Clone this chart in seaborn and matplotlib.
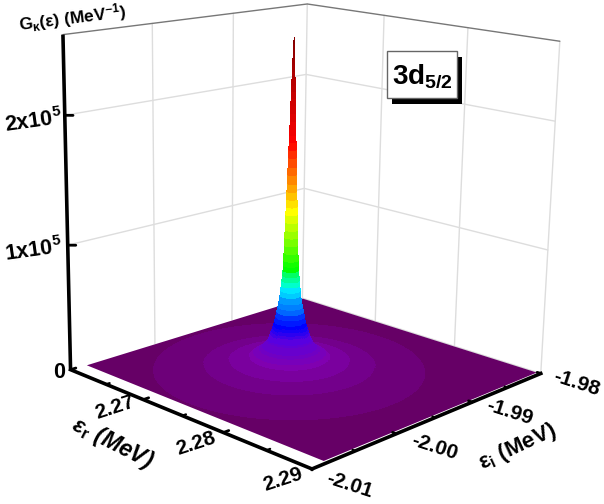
import numpy as np
import matplotlib
matplotlib.use("Agg")
import matplotlib.pyplot as plt
from matplotlib.colors import BoundaryNorm, ListedColormap
from matplotlib.patches import Rectangle
import seaborn as sns

# axis ranges and ticks
e_r_range = [2.26, 2.29]
e_i_range = [-2.01, -1.98]
g_range = [0, 2.6e5]
e_r_major = [2.26, 2.27, 2.28, 2.29]
e_r_minor = [2.265, 2.275, 2.285]
e_i_major = [-2.01, -2.00, -1.99, -1.98]
e_i_minor = [-2.005, -1.995, -1.985]
g_major = [0, 1e5, 2e5]

# flat purple floor, slightly inset from the axes
floor_r = [2.26, 2.2895]
floor_i = [-2.0082, -1.98]

# peak centre and its radial profile (dist in 1e-5 MeV, height in 1e4 /MeV)
peak_r0 = 2.2739
peak_i0 = -1.9961
profile_dist = [0, 1.8, 3.6, 5.5, 7.3, 9.1, 10.9, 12.7, 14.5, 16.4, 18.2, 20, 21.8, 23.6, 25.5, 27.3,
                29.5, 31.8, 34.1, 36.4, 38.6, 40.9, 43.2, 45.5, 47.7, 50, 52.3, 54.5, 56.8, 59.1,
                61.4, 63.6, 65.9, 68.2, 72.7, 77.3, 81.8, 86.4, 90.9, 100, 109, 118, 127, 136, 145,
                155, 164, 173, 182, 191, 200, 218, 245, 273, 300, 327, 364, 418, 482, 545, 655, 773,
                955, 1218]
profile_g = [26, 25.6, 25.2, 24.8, 24.4, 24, 23.5, 23, 22.5, 22, 21.5, 21, 20.4, 19.8, 19.2, 18.7,
             18.2, 17.6, 17, 16.3, 15.7, 15, 14.4, 13.8, 13.2, 12.6, 12, 11.4, 10.8, 10.2,
             9.6, 9, 8.6, 8.2, 7.8, 7.4, 7, 6.6, 6.2, 5.7, 5.3, 4.9, 4.5, 4.1, 3.8,
             3.55, 3.3, 3.1, 2.85, 2.65, 2.5, 2.25, 2, 1.8, 1.62, 1.5, 1.2, 1.05, 0.95, 0.9, 0.7, 0.6,
             0.45, 0.3]

# colour steps of the height map
color_stops = ["#660066", "#8000b0", "#5800e0", "#0000ff", "#00ffff", "#00ff00", "#ffff00", "#ff0000", "#800000"]
stop_counts = [4, 5, 4, 10, 5, 15, 17, 27]

sns.set_theme(style="white")
plt.rcParams["font.family"] = ["Liberation Sans", "DejaVu Sans"]
plt.rcParams["font.weight"] = "bold"
plt.rcParams["mathtext.fontset"] = "custom"
plt.rcParams["mathtext.rm"] = "Liberation Sans:bold"
plt.rcParams["mathtext.it"] = "Liberation Sans:bold"
plt.rcParams["mathtext.bf"] = "Liberation Sans:bold"
plt.rcParams["mathtext.default"] = "rm"

colors = []
for i, n in enumerate(stop_counts):
    colors += sns.blend_palette([color_stops[i], color_stops[i + 1]], n + 1)[:n]
cmap = ListedColormap(colors)
levels = np.arange(0, 3000 * (len(colors) + 1), 3000)
norm = BoundaryNorm(levels, len(colors))

fig = plt.figure(figsize=(6.04, 5.04), dpi=100)
ax = fig.add_axes([-0.01, 0.03, 1.02, 1.08], projection="3d", computed_zorder=False)
ax.view_init(elev=15, azim=-46.5, roll=-1)
ax._dist = 9.44
ax.set_proj_type("persp", focal_length=0.55)
ax.set_box_aspect((1, 1, 1.01), zoom=1.0)
ax.set_xlim(*e_r_range, view_margin=0)
ax.set_ylim(*e_i_range, view_margin=0)
ax.set_zlim(*g_range, view_margin=0)
ax.set_axis_off()

r0, r1 = e_r_range
i0, i1 = e_i_range
g1 = g_range[1]

# back walls: grid and frame
grid_c = "#dddddd"
for v in e_i_major[1:3]:
    ax.plot([r0, r0], [v, v], [0, g1], color=grid_c, lw=1, zorder=1)
for v in e_r_major[1:3]:
    ax.plot([v, v], [i1, i1], [0, g1], color=grid_c, lw=1, zorder=1)
for v in g_major[1:]:
    ax.plot([r0, r0, r1], [i0, i1, i1], [v, v, v], color=grid_c, lw=1, zorder=1)
ax.plot([r0, r1], [i1, i1], [0, 0], color=grid_c, lw=1, zorder=1)
ax.plot([r0, r0], [i1, i1], [0, g1], color=grid_c, lw=1, zorder=1)
ax.plot([r1, r1], [i1, i1], [0, g1], color=grid_c, lw=1, zorder=1)
ax.plot([r0, r0, r1], [i0, i1, i1], [g1, g1, g1], color="#777777", lw=1, zorder=1)

# floor
fx, fy = np.meshgrid(floor_r, floor_i)
ax.plot_surface(fx, fy, np.zeros_like(fx), color=colors[0], shade=False, linewidth=0,
                antialiased=True, zorder=2)

# peak as a polar mesh
dist = np.array(profile_dist) * 1e-5
height = np.array(profile_g) * 1e4
theta = np.linspace(0, 2 * np.pi, 121)
px = peak_r0 + np.outer(dist, np.cos(theta))
py = peak_i0 + np.outer(dist, np.sin(theta))
pz = np.tile(height[:, None], (1, len(theta)))
ax.plot_surface(px, py, pz, cmap=cmap, norm=norm, rstride=1, cstride=1, shade=False,
                linewidth=0, antialiased=False, zorder=3)

# axes and ticks as thick lines
k = "black"
ax.plot([r0, r0], [i0, i0], [0, g1], color=k, lw=2.6, zorder=4, solid_capstyle="butt")
ax.plot([r0, r1], [i0, i0], [0, 0], color=k, lw=2.6, zorder=4, solid_capstyle="projecting")
ax.plot([r1, r1], [i0, i1], [0, 0], color=k, lw=2.6, zorder=4, solid_capstyle="projecting")
for v in g_major[1:]:
    ax.plot([r0, r0 + 0.0005], [i0, i0 + 0.0005], [v, v], color=k, lw=2, zorder=4)
for v in e_r_major[:-1]:
    ax.plot([v, v], [i0, i0 + 0.0006], [0, 0], color=k, lw=2, zorder=4)
for v in e_r_minor:
    ax.plot([v, v], [i0, i0 + 0.0004], [0, 0], color=k, lw=1.6, zorder=4)
for v in e_i_major[1:]:
    ax.plot([r1, r1 - 0.0004], [v, v], [0, 0], color=k, lw=2, zorder=4)
for v in e_i_minor:
    ax.plot([r1, r1 - 0.0003], [v, v], [0, 0], color=k, lw=1.6, zorder=4)


def label(px_x, px_y, s, size, rot, **kw):
    fig.text(px_x / 604, 1 - px_y / 504, s, fontsize=size, rotation=rot, ha="center", va="center",
             rotation_mode="anchor", color="black", fontweight="bold", **kw)


label(72, 18, "G$_{κ}$(ε) (MeV$^{-1}$)", 12.5, 7)
label(33, 122, "2x10$^{5}$", 15.5, 8)
label(33, 251, "1x10$^{5}$", 15.5, 8)
label(59, 373, "0", 15.5, 0)
label(115, 408, "2.27", 15, 18)
label(196, 443, "2.28", 15, 18)
label(283, 479, "2.29", 15, 18)
label(112, 443, "ε$_{r}$ (MeV)", 16.5, -27, style="italic")
label(577, 383, "-1.98", 15, -18)
label(510, 412, "-1.99", 15, -18)
label(434, 447, "-2.00", 15, -18)
label(350, 485, "-2.01", 15, -18)
label(517, 447, "ε$_{i}$ (MeV)", 16, 25)

# 3d5/2 box with its drop shadow
fig.add_artist(Rectangle((392 / 604, 1 - 104 / 504), 70 / 604, 47 / 504, transform=fig.transFigure,
                         facecolor="black", edgecolor="none"))
fig.add_artist(Rectangle((387 / 604, 1 - 98 / 504), 70 / 604, 47 / 504, transform=fig.transFigure,
                         facecolor="white", edgecolor="#666666", lw=1))
label(422, 76, "3d$_{5/2}$", 20, 0)

fig.savefig("out.png", dpi=100, facecolor="white")
